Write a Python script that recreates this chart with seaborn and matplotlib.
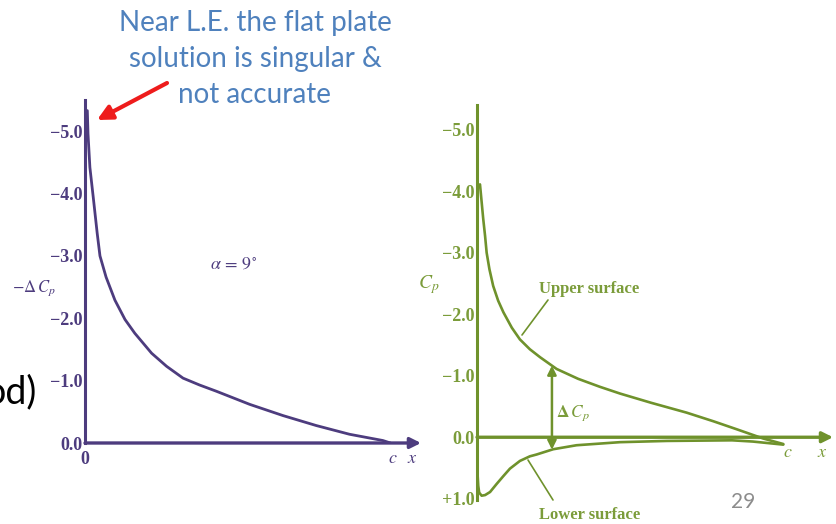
import numpy as np
import pandas as pd
import matplotlib
matplotlib.use("Agg")
import matplotlib.pyplot as plt
import seaborn as sns

# ---- data -------------------------------------------------------------
# thin-airfoil (flat plate) loading, alpha = 9 deg
x_flat = [0.0076, 0.0098, 0.016, 0.027, 0.040, 0.049, 0.069, 0.098, 0.131,
          0.163, 0.218, 0.267, 0.321, 0.375, 0.43, 0.539, 0.648, 0.757,
          0.866, 0.975, 1.0]
neg_dcp = [-5.33, -4.96, -4.42, -3.94, -3.36, -3.00, -2.66, -2.29, -1.98,
           -1.76, -1.44, -1.23, -1.04, -0.93, -0.83, -0.62, -0.44, -0.28,
           -0.14, -0.04, 0.0]

# surface pressure distribution on a real airfoil
x_upper = [0.0096, 0.015, 0.020, 0.026, 0.031, 0.040, 0.052, 0.068, 0.085,
           0.112, 0.138, 0.170, 0.203, 0.256, 0.325, 0.395, 0.46, 0.56,
           0.674, 0.76, 0.835, 0.92, 0.985]
cp_upper = [-4.11, -3.82, -3.55, -3.27, -3.00, -2.73, -2.46, -2.22, -2.03,
            -1.78, -1.59, -1.43, -1.30, -1.11, -0.95, -0.82, -0.71, -0.56,
            -0.40, -0.26, -0.13, 0.02, 0.11]
x_lower = [0.0, 0.0008, 0.004, 0.007, 0.015, 0.026, 0.042, 0.063, 0.085,
           0.106, 0.138, 0.170, 0.192, 0.245, 0.32, 0.46, 0.61, 0.82,
           0.887, 0.985]
cp_lower = [0.0, 0.52, 0.79, 0.90, 0.95, 0.94, 0.89, 0.76, 0.63,
            0.51, 0.385, 0.31, 0.28, 0.195, 0.13, 0.08, 0.06, 0.05,
            0.07, 0.12]

left_ticks = [-5.0, -4.0, -3.0, -2.0, -1.0, 0.0]
left_tick_labels = ["\u22125.0", "\u22124.0", "\u22123.0", "\u22122.0", "\u22121.0", "0.0"]
right_ticks = [-5.0, -4.0, -3.0, -2.0, -1.0, 0.0, 1.0]
right_tick_labels = ["\u22125.0", "\u22124.0", "\u22123.0", "\u22122.0", "\u22121.0", "0.0", "+1.0"]
x_dcp_arrow = 0.241

note_lines = ["Near L.E. the flat plate", "solution is singular &", "not accurate"]

# ---- style ------------------------------------------------------------
sns.set_style("white")
plt.rcParams["font.family"] = ["DejaVu Sans"]
plt.rcParams["mathtext.fontset"] = "stix"
plt.rcParams["lines.solid_joinstyle"] = "round"
plt.rcParams["lines.solid_capstyle"] = "round"

W, H = 836, 524
PURPLE = "#4d3c7e"
GREEN = "#6f922c"
GREEN_TXT = "#7b9c3a"
BLUE = "#4f81bd"
SERIF = "Liberation Serif"

fig = plt.figure(figsize=(W / 100, H / 100), dpi=100)


def box(x0, y0, x1, y1):
    return [x0 / W, 1 - y1 / H, (x1 - x0) / W, (y1 - y0) / H]


def fp(x, y):
    return (x / W, 1 - y / H)


def style_axes(ax, color, txtcolor, ticks, labels):
    for s in ["top", "right", "bottom"]:
        ax.spines[s].set_visible(False)
    ax.spines["left"].set_color(color)
    ax.spines["left"].set_linewidth(2.2)
    ax.set_yticks(ticks)
    ax.set_yticklabels(labels, fontfamily=SERIF, fontweight="bold",
                       fontsize=13, color=txtcolor)
    ax.tick_params(axis="y", direction="in", length=7, width=1.6,
                   color=color, pad=2)
    ax.set_xticks([1.0])
    ax.set_xticklabels([""])
    ax.tick_params(axis="x", direction="in", length=6, width=1.4, color=color)
    ax.set_xlabel("")
    ax.set_ylabel("")
    ax.patch.set_alpha(0)


# ---- left panel: -dCp of the flat plate ------------------------------------
axl = fig.add_axes(box(85, 100, 421, 443))
df_flat = pd.DataFrame({"x": x_flat, "v": neg_dcp})
sns.lineplot(data=df_flat, x="x", y="v", ax=axl, color=PURPLE, lw=2.0,
             sort=False, estimator=None)
axl.set_xlim(0, 1.1)
axl.set_ylim(0, -5.5)
style_axes(axl, PURPLE, PURPLE, left_ticks, left_tick_labels)
axl.annotate("", xy=(1.1, 0), xytext=(0, 0),
             arrowprops=dict(arrowstyle="-|>", color=PURPLE, lw=2.4,
                             mutation_scale=16, shrinkA=0, shrinkB=0),
             annotation_clip=False)

fig.text(*fp(85, 459), "0", ha="center", va="center", fontfamily=SERIF,
         fontsize=13, color=PURPLE, fontweight="bold")
fig.text(*fp(393, 458), r"$\mathit{c}$", ha="center", va="center",
         fontsize=13, color=PURPLE)
fig.text(*fp(412, 458), r"$\mathit{x}$", ha="center", va="center",
         fontsize=13, color=PURPLE)
fig.text(*fp(34, 288), r"$-\Delta\,C_p$", ha="center", va="center",
         fontsize=12, color=PURPLE)
fig.text(*fp(233, 264), r"$\alpha\,=\,9^{\circ}$", ha="center", va="center",
         fontsize=13, color=PURPLE)

# ---- right panel: upper and lower surface Cp -------------------------------
axr = fig.add_axes(box(477, 105, 834.6, 500))
df_up = pd.DataFrame({"x": x_upper, "cp": cp_upper})
df_lo = pd.DataFrame({"x": x_lower, "cp": cp_lower})
sns.lineplot(data=df_up, x="x", y="cp", ax=axr, color=GREEN, lw=1.9,
             sort=False, estimator=None)
sns.lineplot(data=df_lo, x="x", y="cp", ax=axr, color=GREEN, lw=1.9,
             sort=False, estimator=None)
axr.set_xlim(0, 1.15)
axr.set_ylim(1.02, -5.4)
style_axes(axr, GREEN, GREEN_TXT, right_ticks, right_tick_labels)
axr.annotate("", xy=(1.145, 0), xytext=(0, 0),
             arrowprops=dict(arrowstyle="-|>", color=GREEN, lw=2.4,
                             mutation_scale=16, shrinkA=0, shrinkB=0),
             annotation_clip=False)

# pressure-difference arrow between the two surfaces
cp_u_at = np.interp(x_dcp_arrow, x_upper, cp_upper)
cp_l_at = np.interp(x_dcp_arrow, x_lower, cp_lower)
axr.annotate("", xy=(x_dcp_arrow, cp_l_at), xytext=(x_dcp_arrow, cp_u_at),
             arrowprops=dict(arrowstyle="<|-|>", color=GREEN, lw=1.8,
                             mutation_scale=13, shrinkA=0, shrinkB=0))
fig.text(*fp(573, 413), r"$\mathbf{\Delta}\,C_p$", ha="center", va="center",
         fontsize=12.5, color=GREEN_TXT)

fig.text(*fp(429, 285), r"$C_p$", ha="center", va="center",
         fontsize=14, color=GREEN_TXT)
fig.text(*fp(788, 452), r"$\mathit{c}$", ha="center", va="center",
         fontsize=13, color=GREEN_TXT)
fig.text(*fp(822, 452), r"$\mathit{x}$", ha="center", va="center",
         fontsize=13, color=GREEN_TXT)

fig.text(*fp(589, 289), "Upper surface", ha="center", va="center",
         fontfamily=SERIF, fontweight="bold", fontsize=12, color=GREEN_TXT)
fig.text(*fp(590, 515), "Lower surface", ha="center", va="center",
         fontfamily=SERIF, fontweight="bold", fontsize=12, color=GREEN_TXT)
fig.add_artist(plt.Line2D([548 / W, 522 / W], [1 - 300 / H, 1 - 335 / H],
                          color=GREEN, lw=1.2))
fig.add_artist(plt.Line2D([553 / W, 528 / W], [1 - 500 / H, 1 - 460 / H],
                          color=GREEN, lw=1.2))

# ---- slide annotations -----------------------------------------------------
for i, line in enumerate(note_lines):
    fig.text(*fp(255, 23 + 36 * i), line, ha="center", va="center",
             fontfamily="Lato", fontsize=20, color=BLUE)

fig.add_artist(matplotlib.patches.FancyArrowPatch(
    fp(167, 83), fp(97, 120), transform=fig.transFigure,
    arrowstyle="-|>", mutation_scale=22, color="#ee1c1c", lw=3,
    shrinkA=0, shrinkB=0))

fig.text(*fp(37, 392), "od)", ha="right", va="center",
         fontfamily="Lato", fontsize=27, color="black")
fig.text(*fp(743, 502), "29", ha="center", va="center",
         fontfamily="Lato", fontsize=15, color="#8c8c8c")

fig.savefig("out.png", dpi=100)
